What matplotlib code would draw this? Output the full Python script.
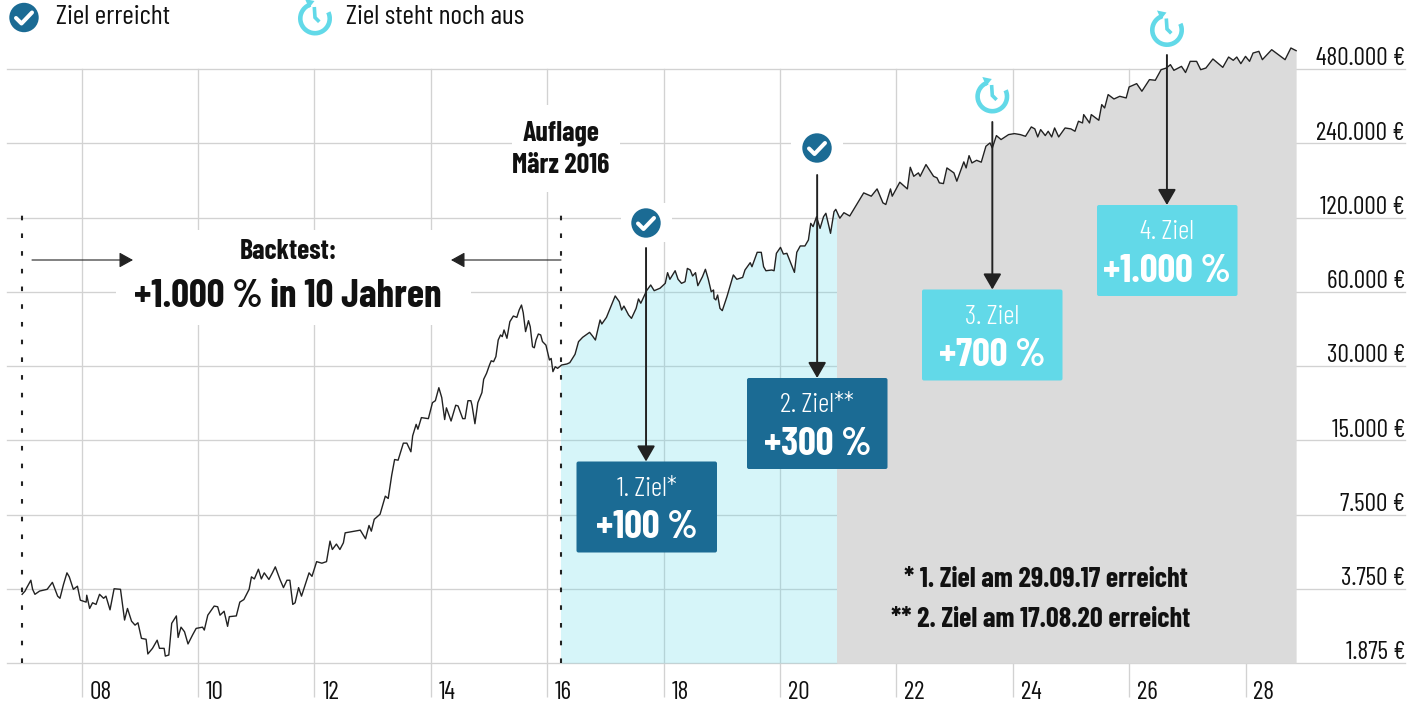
import matplotlib
matplotlib.use("Agg")
import logging
import matplotlib.pyplot as plt
from matplotlib.patches import Rectangle, FancyBboxPatch, Circle, Wedge, Polygon
from matplotlib.lines import Line2D
from matplotlib.transforms import Affine2D, ScaledTranslation

W, H = 1422, 702

# ---------- data ----------
years = [
 2006.98,2007.03,2007.06,2007.13,2007.16,2007.20,2007.28,2007.41,2007.50,2007.59,2007.63,2007.69,2007.75,2007.79,2007.86,2007.93,2007.98,
 2008.08,2008.09,2008.14,2008.19,2008.25,2008.31,2008.38,2008.42,2008.49,2008.56,2008.67,2008.74,2008.79,2008.86,2008.92,2008.97,
 2009.03,2009.11,2009.14,2009.22,2009.30,2009.34,2009.42,2009.44,2009.50,2009.55,2009.63,2009.66,2009.71,2009.77,2009.83,2009.91,2009.97,
 2010.08,2010.11,2010.17,2010.28,2010.34,2010.38,2010.45,2010.51,2010.54,2010.66,2010.72,2010.79,2010.88,2010.92,2010.97,
 2011.04,2011.09,2011.14,2011.22,2011.28,2011.33,2011.41,2011.47,2011.53,2011.58,2011.63,2011.67,2011.73,2011.78,2011.91,2011.96,
 2012.04,2012.13,2012.21,2012.27,2012.31,2012.38,2012.44,2012.50,2012.53,2012.69,2012.79,2012.88,2012.94,2012.98,
 2013.03,2013.13,2013.22,2013.27,2013.33,2013.38,2013.44,2013.53,2013.59,2013.66,2013.69,2013.75,2013.78,2013.84,2013.96,
 2014.03,2014.08,2014.14,2014.19,2014.24,2014.27,2014.35,2014.43,2014.47,2014.55,2014.59,2014.64,2014.69,2014.71,2014.76,2014.81,2014.88,2014.91,2014.96,
 2015.01,2015.04,2015.08,2015.12,2015.16,2015.20,2015.23,2015.26,2015.31,2015.36,2015.42,2015.48,2015.52,2015.56,2015.59,2015.63,2015.68,2015.71,2015.75,2015.78,2015.81,2015.85,2015.89,2015.92,2015.98,
 2016.04,2016.07,2016.10,2016.14,2016.18,2016.25,2016.34,2016.39,2016.48,2016.54,2016.61,2016.73,2016.78,2016.83,2016.91,2016.94,
 2017.02,2017.17,2017.24,2017.28,2017.32,2017.40,2017.45,2017.53,2017.57,2017.61,2017.71,2017.78,2017.84,2017.94,
 2018.03,2018.07,2018.11,2018.20,2018.25,2018.31,2018.37,2018.41,2018.46,2018.50,2018.55,2018.59,2018.67,2018.72,2018.77,2018.82,2018.86,2018.87,2018.90,2018.93,2018.97,
 2019.01,2019.09,2019.20,2019.26,2019.36,2019.40,2019.49,2019.52,2019.61,2019.68,2019.72,2019.76,2019.86,2019.90,2019.94,
 2020.01,2020.06,2020.12,2020.20,2020.25,2020.29,2020.35,2020.43,2020.49,2020.53,2020.57,2020.63,2020.69,2020.75,2020.79,2020.87,2020.93,2020.96,
 2021.03,2021.10,2021.20,2021.44,2021.57,2021.67,2021.77,2021.82,2021.90,2021.93,
 2022.06,2022.19,2022.24,2022.30,2022.38,2022.41,2022.51,2022.64,2022.70,2022.74,2022.81,2022.87,2022.99,
 2023.04,2023.16,2023.20,2023.25,2023.30,2023.38,2023.46,2023.54,2023.61,2023.65,2023.72,2023.80,2023.93,
 2024.03,2024.13,2024.22,2024.32,2024.38,2024.43,2024.48,2024.56,2024.61,2024.67,2024.72,2024.79,2024.90,
 2025.00,2025.07,2025.13,2025.20,2025.22,2025.32,2025.35,2025.48,2025.53,2025.58,2025.64,2025.74,2025.84,2025.95,
 2026.00,2026.13,2026.22,2026.35,2026.45,2026.55,2026.64,2026.71,2026.77,2026.90,2026.97,
 2027.05,2027.16,2027.23,2027.32,2027.44,2027.61,2027.71,2027.79,2027.85,2027.92,
 2028.00,2028.07,2028.13,2028.23,2028.29,2028.45,2028.68,2028.78,2028.87,
]
depot_euro = [
 3560,3670,3790,4060,3730,3560,3670,3730,3980,3500,3430,3900,4350,4190,3730,3840,3370,
 3310,3530,3120,3290,3240,3560,3430,3500,3080,3750,3730,2800,3120,2770,2670,2730,
 2360,2340,2040,2150,2320,2150,2150,2000,2020,2715,2910,2380,2620,2510,2240,2440,2590,
 2620,2550,2930,3190,3170,2930,3040,2640,2890,2910,3310,3390,3730,4190,4110,
 4500,4110,4350,4090,4350,4600,4090,3790,4060,4060,3240,3290,3790,3500,4350,4210,
 4830,4760,4830,5850,5410,5690,5410,5760,6320,6420,6480,5980,6770,6420,
 7170,7520,8900,8710,10820,12530,12450,14600,14600,13470,15630,17400,16630,18530,18350,
 21300,21700,24500,22330,18200,20300,17950,20800,20660,18350,18350,21700,21700,20800,17500,21300,23400,26500,28030,
 30280,31500,31230,32740,38240,40090,39460,42000,38860,45370,47830,47240,50600,53000,49300,41350,45800,43300,35900,35560,38240,40450,40090,37700,36450,
 31730,32200,28460,29800,29350,30280,30570,30950,33460,37650,39200,41070,39700,38240,46100,44400,
 47240,57700,54700,50600,52500,48300,46800,51400,56100,53900,60600,63900,60600,62000,
 64900,71700,67400,73000,67400,64900,65900,74600,73500,69500,71700,63500,69100,74000,67400,60000,61000,56400,55600,58200,51400,
 50300,57300,70200,67400,68600,73500,78700,75800,86700,86700,75800,73000,73500,73000,85900,
 90800,85300,85900,77000,71900,86700,92000,92000,97300,113600,110200,120900,108400,120900,124800,103500,126700,129500,
 119200,125500,121700,151000,146400,156700,137600,135500,156700,146400,
 166800,156700,191800,176300,182000,176300,196700,176300,173700,165800,164700,190600,182000,
 168400,201700,190600,213800,199700,204700,201100,233400,240700,229700,257800,248400,260200,
 262600,260200,256100,279500,274400,254600,272600,257800,268400,254600,276800,254600,276800,
 274400,268400,294700,290100,313600,290100,313600,297400,344200,333600,378000,362800,372000,366300,
 405800,418700,390000,434700,432000,476900,484400,499800,474000,492000,464400,
 515500,515500,476900,484400,527000,487400,536700,520500,536700,504600,
 540000,515500,557200,566000,523700,574800,523700,583900,569600,
]
launch_year = 2016.24
start_year = 2006.98
forecast_start = 2020.98
series_end = 2028.89
y_values = [1875, 3750, 7500, 15000, 30000, 60000, 120000, 240000, 480000]
y_labels = ["1.875 €", "3.750 €", "7.500 €", "15.000 €", "30.000 €", "60.000 €", "120.000 €", "240.000 €", "480.000 €"]
x_years = [2008, 2010, 2012, 2014, 2016, 2018, 2020, 2022, 2024, 2026, 2028]
x_labels = ["08", "10", "12", "14", "16", "18", "20", "22", "24", "26", "28"]
goal_years = [2017.70, 2020.64, 2023.65, 2026.65]
goal_titles = ["1. Ziel*", "2. Ziel**", "3. Ziel", "4. Ziel"]
goal_values = ["+100\u2009%", "+300\u2009%", "+700\u2009%", "+1.000\u2009%"]

# ---------- styles ----------
NAVY = "#1b6b94"
CYAN = "#62d9e8"
GREY = "#dbdbdb"
GRID = "#d2d2d2"
INK = "#222222"
# Barlow Condensed is present in the sandbox; the others are the documented fallbacks.
FONT = ["Barlow Condensed", "Liberation Sans", "DejaVu Sans"]
logging.getLogger("matplotlib.font_manager").setLevel(logging.ERROR)

fig = plt.figure(figsize=(W / 100, H / 100), dpi=100, facecolor="white")
px = Affine2D().scale(1, -1).translate(0, H)   # picture pixels -> display

L, R, T, B = 7, 1405, 69, 663
ax = fig.add_axes([L / W, 1 - B / H, (R - L) / W, (B - T) / H])
ax.set_facecolor("none")
for s in ax.spines.values():
    s.set_visible(False)
ax.set_yscale("log", base=2)
ax.set_ylim(1875, 480000)
ax.set_xlim(2008 + (L - 81.5) / 58.2, 2008 + (R - 81.5) / 58.2)
ax.set_yticks(y_values)
ax.minorticks_off()
ax.set_xticks(x_years, x_labels)
ax.set_axisbelow(True)
ax.grid(True, color=GRID, lw=0.95)
for g in ax.get_ygridlines() + ax.get_xgridlines():
    g.set_clip_on(False)
ax.tick_params(axis="y", left=False, labelleft=False)
ax.tick_params(axis="x", length=24.5, width=0.95, color=GRID, pad=-11.6,
               labelsize=18.3, labelcolor="#111111")
for lab in ax.get_xticklabels():
    lab.set_family(FONT)
    lab.set_ha("left")
    lab.set_transform(lab.get_transform() + ScaledTranslation(8 / 100, 0, fig.dpi_scale_trans))

# white masks behind annotations
for x0, y0, x1, y1 in [(116, 230, 471, 325), (512, 105, 620, 192), (621, 203, 672, 242), (791, 120, 843, 175)]:
    ax.add_patch(Rectangle((x0, y0), x1 - x0, y1 - y0, transform=px, fc="white", ec="none", zorder=0.8, clip_on=False))

# areas below the curve
base = [1875] * len(years)
blue = ax.fill_between(years, depot_euro, base, color=CYAN, alpha=0.26, lw=0, zorder=1)
blue.set_clip_path(Rectangle((launch_year, 1875), forecast_start - launch_year, 1e6, transform=ax.transData))
grey = ax.fill_between(years, depot_euro, base, color=GREY, lw=0, zorder=1.1)
grey.set_clip_path(Rectangle((forecast_start, 1875), series_end - forecast_start, 1e6, transform=ax.transData))

# curve
ax.plot(years, depot_euro, color=INK, lw=1.0, zorder=3, clip_on=False, solid_joinstyle="round")

# dotted markers
for yr in (start_year, launch_year):
    ax.plot([yr, yr], [1875, 136000], color=INK, lw=1.5, dashes=(2.2, 6.3), zorder=2.5, clip_on=False)

# y labels
for v, t in zip(y_values, y_labels):
    ax.annotate(t, xy=(1, v), xycoords=("axes fraction", "data"), xytext=(0, 2.6),
                textcoords="offset points", ha="right", va="baseline",
                fontsize=18.3, family=FONT, color="#111111")


def label(x, y, s, size, weight="normal", color="#111111", ha="center"):
    fig.text(x / W, 1 - y / H, s, fontsize=size, fontweight=weight, color=color,
             family=FONT, ha=ha, va="baseline", zorder=8)


def arrow(x0, y0, x1, y1, lw, hl, hw):
    ax.annotate("", xy=(x1, H - y1), xytext=(x0, H - y0), xycoords="figure pixels", textcoords="figure pixels",
                zorder=5, annotation_clip=False,
                arrowprops=dict(arrowstyle=f"-|>,head_length={hl},head_width={hw}", mutation_scale=1,
                                lw=lw, color=INK, shrinkA=0, shrinkB=0))


def check_icon(cx, cy):
    ax.add_patch(Circle((cx, cy), 14.7, transform=px, fc=NAVY, ec="none", zorder=6, clip_on=False))
    ax.add_line(Line2D([cx - 8, cx - 2.5, cx + 8], [cy + 0.5, cy + 6, cy - 5], transform=px, color="white",
                       lw=2.9, solid_capstyle="round", solid_joinstyle="round", zorder=7, clip_on=False))


def clock_icon(cx, cy):
    ax.add_patch(Wedge((cx, cy), 17, -385, -108, width=4.6, transform=px, fc=CYAN, ec="none", zorder=6, clip_on=False))
    ax.add_patch(Polygon([(cx - 10, cy - 19.5), (cx - 0.5, cy - 17.5), (cx - 6, cy - 10.5)], closed=True, transform=px,
                         fc=CYAN, ec="none", zorder=6, clip_on=False))
    ax.add_line(Line2D([cx - 0.7, cx, cx + 4.3], [cy - 11.5, cy - 1, cy + 3.3], transform=px, color=CYAN, lw=2.6,
                       solid_capstyle="butt", solid_joinstyle="miter", zorder=7, clip_on=False))


# goal boxes
boxes = [(576.5, 461.5, 140.5, 91, NAVY, 248), (747, 378, 140.5, 91, NAVY, 175),
         (922, 289.5, 140.5, 91, CYAN, 122), (1097, 205, 140.5, 91, CYAN, 55)]
for (bx, by, bw, bh, col, arrow_top), gy, t1, t2 in zip(boxes, goal_years, goal_titles, goal_values):
    ax.add_patch(FancyBboxPatch((bx + 2, by + 2), bw - 4, bh - 4, boxstyle="round,pad=2,rounding_size=2",
                                transform=px, fc=col, ec="none", zorder=4, clip_on=False))
    xc = bx + bw / 2
    label(xc, by + 34, t1, 20, weight=300, color="white")
    label(xc, by + 77, t2, 28.2, weight="bold", color="white")
    x_disp = ax.transData.transform((gy, 1875))[0]
    arrow(x_disp, arrow_top, x_disp, by, 1.4, 9.5, 5.5)

check_icon(646, 223)
check_icon(817, 148)
clock_icon(992.3, 96.5)
clock_icon(1167, 30)

# legend
check_icon(24, 17.5)
clock_icon(315, 18.5)
label(56, 24, "Ziel erreicht", 20, ha="left")
label(346, 24, "Ziel steht noch aus", 20, ha="left")

# annotations
label(561, 140, "Auflage", 20, weight="bold")
label(561, 173, "März 2016", 20, weight="bold")
label(288, 259, "Backtest:", 20, weight="bold")
label(288, 307, "+1.000\u2009% in 10 Jahren", 28.3, weight="bold")
arrow(32, 260, 133, 260, 0.8, 8.5, 4.7)
arrow(561, 260, 451, 260, 0.8, 8.5, 4.7)
label(1046, 587, "* 1. Ziel am 29.09.17 erreicht", 20.3, weight="bold")
label(1041, 627, "** 2. Ziel am 17.08.20 erreicht", 20.3, weight="bold")

fig.savefig("out.png", dpi=100)
